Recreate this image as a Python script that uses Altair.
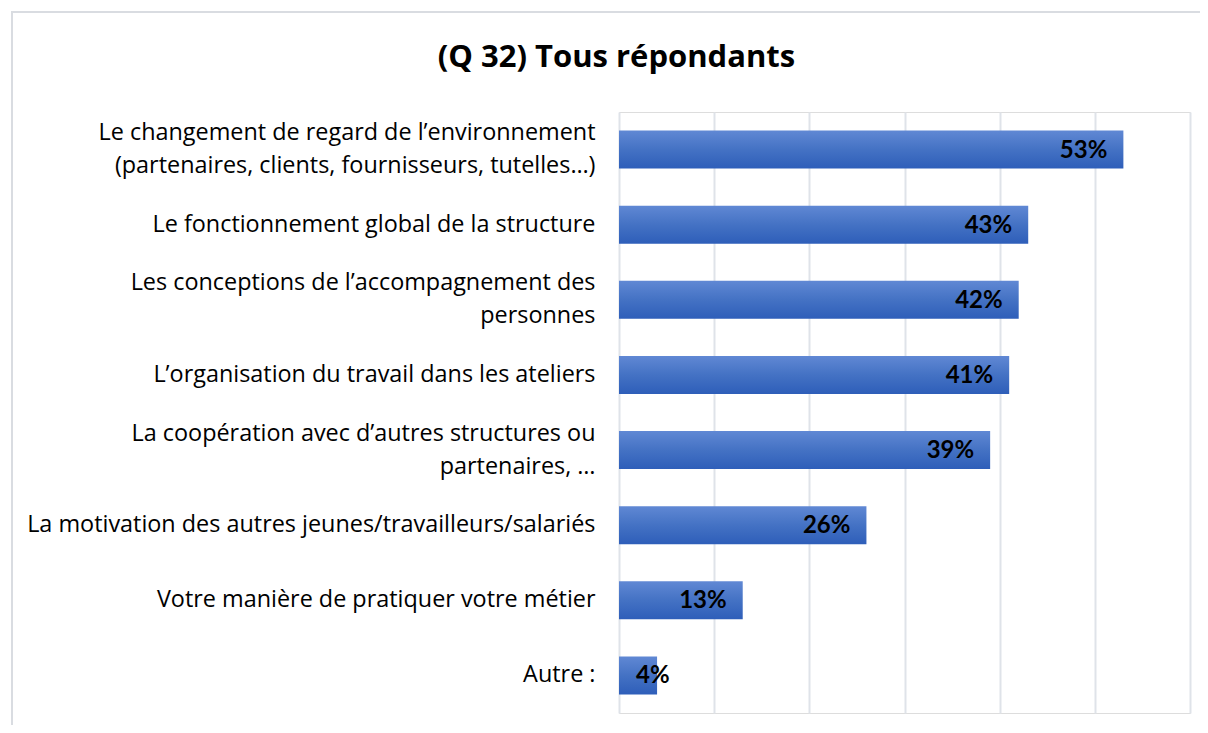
import altair as alt
import pandas as pd

categories = [
    "Le changement de regard de l\u2019environnement|(partenaires, clients, fournisseurs, tutelles\u2026)",
    "Le fonctionnement global de la structure",
    "Les conceptions de l\u2019accompagnement des|personnes",
    "L\u2019organisation du travail dans les ateliers",
    "La coop\u00e9ration avec d\u2019autres structures ou|partenaires, \u2026",
    "La motivation des autres jeunes/travailleurs/salari\u00e9s",
    "Votre mani\u00e8re de pratiquer votre m\u00e9tier",
    "Autre :",
]
values = [53, 43, 42, 41, 39, 26, 13, 4]
x_ticks = [0, 10, 20, 30, 40, 50, 60]

df = pd.DataFrame({"cat": categories, "value": values})
df["label"] = [f"{v}%" for v in values]

FONT = "Open Sans"
NUMFONT = "Lato"

y_enc = alt.Y(
    "cat:N",
    sort=categories,
    title=None,
    scale=alt.Scale(paddingInner=0.494, paddingOuter=0.247),
    axis=alt.Axis(
        labelExpr="split(datum.label, '|')",
        labelFontSize=23.4,
        labelFont=FONT,
        labelColor="#000000",
        labelPadding=24,
        labelLineHeight=33,
        labelLimit=0,
        labelOffset=alt.ExprRef("indexof(datum.label, '|') >= 0 ? -16.5 : 0"),
        domain=False,
        ticks=False,
        grid=False,
    ),
)

x_scale = alt.Scale(domain=[0, 60], nice=False)

border = alt.Chart(df).mark_rect(
    fill=None, stroke="#d9dce1", strokeWidth=1.5
).encode(
    x=alt.value(-607), x2=alt.value(640),
    y=alt.value(-100), y2=alt.value(700),
)

bars = alt.Chart(df).mark_bar(
    color=alt.Gradient(
        gradient="linear",
        stops=[
            alt.GradientStop(color="#6088d4", offset=0),
            alt.GradientStop(color="#4472c4", offset=0.5),
            alt.GradientStop(color="#2e5eb9", offset=1),
        ],
        x1=0, x2=0, y1=0, y2=1,
    )
).encode(
    x=alt.X(
        "value:Q",
        scale=x_scale,
        title=None,
        axis=alt.Axis(
            values=x_ticks,
            labels=False,
            ticks=False,
            domain=False,
            grid=True,
            gridColor="#dfe3e9",
            gridWidth=2,
        ),
    ),
    y=y_enc,
)

text = alt.Chart(df).transform_calculate(
    pos="max(datum.value, 7)"
).mark_text(
    align="right", baseline="middle", dx=-16, dy=1,
    font=NUMFONT, fontSize=24, fontWeight="bold", color="#000000",
).encode(
    x=alt.X("pos:Q", scale=x_scale),
    y=alt.Y("cat:N", sort=categories),
    text="label:N",
)

chart = alt.layer(border, bars, text).properties(
    width=571,
    height=601,
    title=alt.TitleParams(
        "(Q 32) Tous r\u00e9pondants",
        font=FONT,
        fontSize=31,
        fontWeight="bold",
        color="#000000",
        anchor="middle",
        dx=-288,
        offset=-63,
    ),
    autosize=alt.AutoSizeParams(type="none"),
    padding={"left": 611, "top": 104, "right": 10, "bottom": 12},
).configure_view(stroke=None).configure(background="#ffffff")

chart.save("out.html", embed_options={"renderer": "svg", "actions": False})
